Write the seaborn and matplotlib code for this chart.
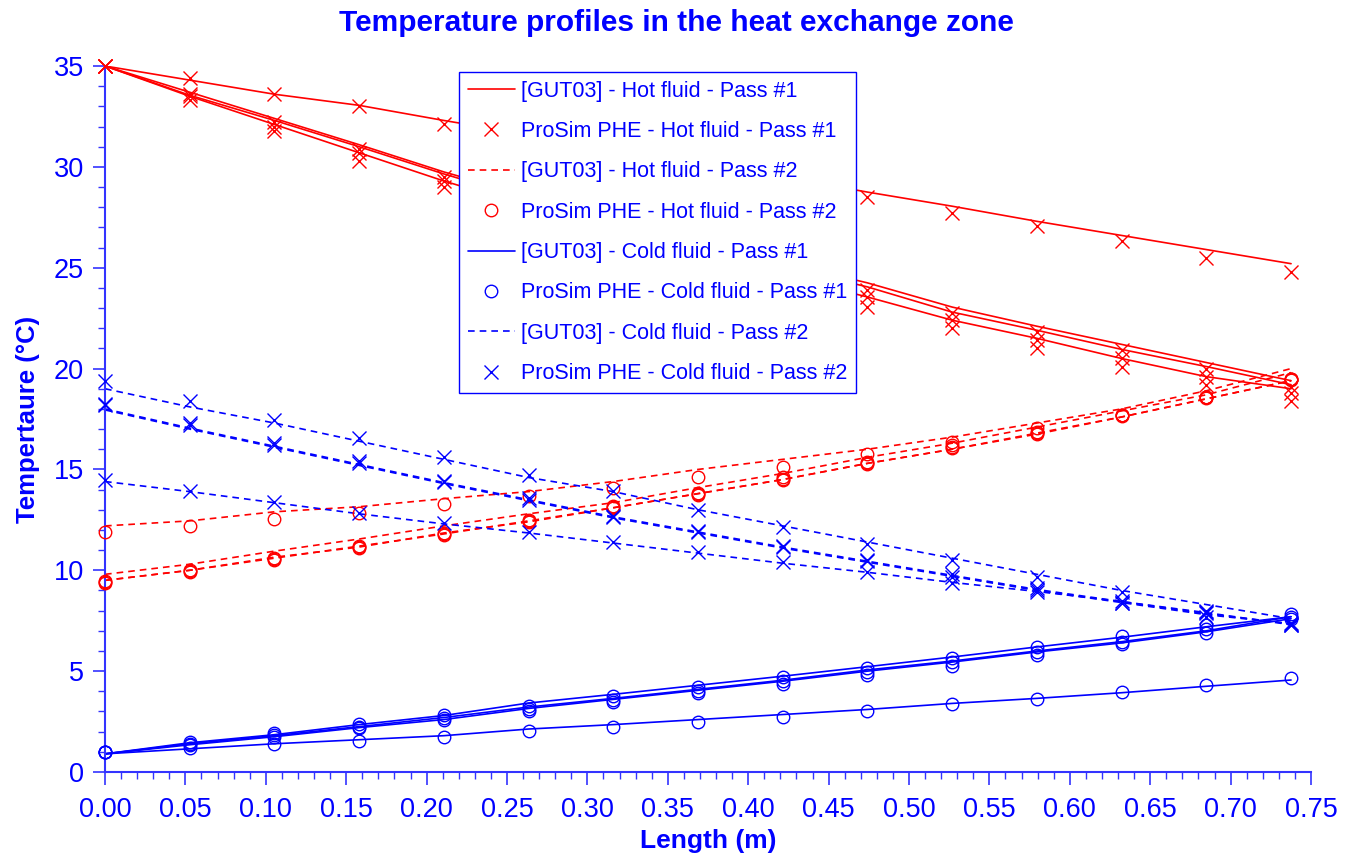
import numpy as np
import pandas as pd
import matplotlib
matplotlib.use("Agg")
import matplotlib.pyplot as plt
import seaborn as sns
from matplotlib.lines import Line2D
from matplotlib.ticker import MultipleLocator, FormatStrFormatter

# positions along the plate (m)
length_pts = [0.0, 0.0527, 0.1054, 0.158, 0.2107, 0.2634, 0.3161, 0.3688,
              0.4215, 0.4741, 0.5268, 0.5795, 0.6322, 0.6849, 0.7376]

# [GUT03] model curves (one per channel)
gut_hot1 = [
    [35, 34.3, 33.6, 33.05, 32.3, 31.6, 30.9, 30.2, 29.5, 28.75, 28.05, 27.3, 26.6, 25.9, 25.2],
    [35, 33.7, 32.4, 31.1, 29.75, 28.55, 27.4, 26.3, 25.25, 24.25, 23.05, 22.1, 21.2, 20.3, 19.4],
    [35, 33.55, 32.3, 31.0, 29.65, 28.4, 27.25, 26.1, 25.05, 24.05, 22.8, 21.9, 20.95, 20.1, 19.2],
    [35, 33.5, 32.1, 30.7, 29.3, 28.05, 26.85, 25.7, 24.6, 23.55, 22.4, 21.5, 20.5, 19.6, 19.0],
]
gut_hot2 = [
    [12.2, 12.45, 12.9, 13.15, 13.55, 13.9, 14.4, 15.0, 15.5, 16.0, 16.6, 17.3, 18.0, 18.9, 20.0],
    [9.8, 10.3, 10.95, 11.55, 12.2, 12.8, 13.35, 14.1, 14.8, 15.6, 16.3, 17.1, 17.9, 18.7, 19.8],
    [9.5, 10.0, 10.65, 11.15, 11.85, 12.4, 13.1, 13.8, 14.5, 15.3, 16.0, 16.8, 17.6, 18.5, 19.4],
    [9.5, 10.0, 10.6, 11.2, 11.8, 12.45, 13.1, 13.8, 14.5, 15.3, 16.0, 16.75, 17.6, 18.5, 19.4],
]
gut_cold1 = [
    [0.9, 1.15, 1.4, 1.6, 1.8, 2.13, 2.35, 2.6, 2.85, 3.1, 3.4, 3.65, 3.93, 4.25, 4.56],
    [0.9, 1.45, 1.85, 2.35, 2.8, 3.42, 3.85, 4.3, 4.75, 5.22, 5.7, 6.2, 6.68, 7.2, 7.7],
    [0.9, 1.4, 1.8, 2.25, 2.7, 3.22, 3.65, 4.1, 4.55, 5.06, 5.5, 6.0, 6.46, 7.0, 7.7],
    [0.9, 1.35, 1.75, 2.2, 2.6, 3.15, 3.6, 4.05, 4.5, 5.0, 5.45, 5.95, 6.4, 6.95, 7.6],
]
gut_cold2 = [
    [19.0, 18.1, 17.3, 16.4, 15.5, 14.6, 13.9, 13.0, 12.2, 11.4, 10.6, 9.8, 9.0, 8.3, 7.6],
    [17.95, 17.0, 16.1, 15.2, 14.3, 13.45, 12.6, 11.85, 11.1, 10.4, 9.7, 9.0, 8.4, 7.8, 7.35],
    [18.0, 17.05, 16.15, 15.25, 14.35, 13.5, 12.65, 11.9, 11.15, 10.45, 9.75, 9.05, 8.45, 7.85, 7.35],
    [14.4, 13.9, 13.35, 12.8, 12.3, 11.85, 11.35, 10.85, 10.35, 9.9, 9.4, 8.95, 8.45, 7.9, 7.3],
]

# ProSim PHE results
phe_hot1 = [
    [35, 34.4, 33.6, 33.0, 32.1, 31.4, 30.7, 29.9, 29.2, 28.5, 27.7, 27.05, 26.3, 25.5, 24.8],
    [35, 33.6, 32.2, 30.9, 29.5, 28.3, 27.2, 26.1, 25.0, 23.9, 22.75, 21.8, 20.9, 20.0, 19.1],
    [35, 33.5, 32.0, 30.7, 29.3, 28.0, 26.9, 25.8, 24.7, 23.55, 22.4, 21.4, 20.5, 19.6, 18.8],
    [35, 33.3, 31.8, 30.3, 29.0, 27.7, 26.5, 25.4, 24.2, 23.05, 22.0, 21.0, 20.1, 19.2, 18.4],
]
phe_hot2 = [
    [11.9, 12.2, 12.55, 12.85, 13.3, 13.7, 14.1, 14.6, 15.1, 15.75, 16.35, 17.05, 17.7, 18.6, 19.5],
    [9.45, 10.0, 10.6, 11.2, 11.85, 12.5, 13.2, 13.85, 14.6, 15.35, 16.2, 16.85, 17.7, 18.6, 19.5],
    [9.4, 9.95, 10.55, 11.15, 11.8, 12.45, 13.15, 13.8, 14.55, 15.3, 16.1, 16.8, 17.7, 18.6, 19.5],
    [9.35, 9.9, 10.5, 11.1, 11.75, 12.4, 13.1, 13.75, 14.5, 15.25, 16.05, 16.75, 17.65, 18.55, 19.45],
]
phe_cold1 = [
    [1.0, 1.2, 1.4, 1.55, 1.75, 2.05, 2.25, 2.5, 2.75, 3.0, 3.36, 3.62, 3.95, 4.31, 4.68],
    [1.0, 1.5, 1.92, 2.38, 2.83, 3.27, 3.75, 4.2, 4.7, 5.15, 5.67, 6.21, 6.74, 7.29, 7.83],
    [1.0, 1.4, 1.82, 2.25, 2.68, 3.1, 3.57, 4.02, 4.5, 4.97, 5.47, 5.97, 6.46, 7.07, 7.67],
    [1.0, 1.34, 1.75, 2.18, 2.6, 3.0, 3.45, 3.9, 4.37, 4.83, 5.27, 5.8, 6.35, 6.91, 7.6],
]
phe_cold2 = [
    [19.4, 18.4, 17.45, 16.55, 15.6, 14.7, 13.95, 13.0, 12.15, 11.3, 10.5, 9.65, 8.9, 8.0, 7.4],
    [18.2, 17.2, 16.2, 15.3, 14.4, 13.5, 12.65, 11.9, 11.15, 10.45, 9.65, 9.0, 8.4, 7.9, 7.3],
    [18.25, 17.3, 16.3, 15.4, 14.45, 13.6, 12.7, 11.95, 11.2, 10.5, 9.8, 9.1, 8.5, 7.95, 7.35],
    [14.5, 13.95, 13.4, 12.85, 12.35, 11.9, 11.4, 10.9, 10.4, 9.9, 9.35, 8.9, 8.4, 7.7, 7.3],
]

legend_labels = [
    "[GUT03] - Hot fluid - Pass #1",
    "ProSim PHE - Hot fluid - Pass #1",
    "[GUT03] - Hot fluid - Pass #2",
    "ProSim PHE - Hot fluid - Pass #2",
    "[GUT03] - Cold fluid - Pass #1",
    "ProSim PHE - Cold fluid - Pass #1",
    "[GUT03] - Cold fluid - Pass #2",
    "ProSim PHE - Cold fluid - Pass #2",
]

RED = "#ff0000"
BLUE = "#0000ff"
DASH = (0, (4, 3))

sns.set_theme(style="white")
plt.rcParams["font.family"] = ["Liberation Sans", "DejaVu Sans"]

fig = plt.figure(figsize=(13.53, 8.56), dpi=100)
ax = fig.add_axes([105 / 1353, 84 / 856, 1206 / 1353, 706 / 856])

# model curves + simulation points
series = [
    (gut_hot1, phe_hot1, RED, "-", "x"),
    (gut_hot2, phe_hot2, RED, DASH, "o"),
    (gut_cold1, phe_cold1, BLUE, "-", "o"),
    (gut_cold2, phe_cold2, BLUE, DASH, "x"),
]
handles = []
for gut, phe, col, ls, mk in series:
    for curve in gut:
        sns.lineplot(x=length_pts, y=curve, ax=ax, color=col, linestyle=ls,
                     linewidth=1.2, legend=False, zorder=2)
    for pts in phe:
        sns.lineplot(x=length_pts, y=pts, ax=ax, linestyle="", marker=mk,
                     markersize=9.5 if mk == "x" else 9,
                     markerfacecolor="none", markeredgecolor=col, color=col,
                     markeredgewidth=1.0, legend=False, zorder=3, clip_on=False)
    handles.append(Line2D([], [], color=col, linestyle=ls, linewidth=1.2))
    handles.append(Line2D([], [], linestyle="", marker=mk,
                          markersize=9.5 if mk == "x" else 9,
                          markerfacecolor="none", markeredgecolor=col,
                          markeredgewidth=1.0))

ax.set_xlim(0, 0.75)
ax.set_ylim(0, 35)
ax.xaxis.set_major_locator(MultipleLocator(0.05))
ax.xaxis.set_minor_locator(MultipleLocator(0.01))
ax.xaxis.set_major_formatter(FormatStrFormatter("%.2f"))
ax.yaxis.set_major_locator(MultipleLocator(5))
ax.yaxis.set_minor_locator(MultipleLocator(1))

for side in ["top", "right"]:
    ax.spines[side].set_visible(False)
for side in ["left", "bottom"]:
    ax.spines[side].set_color("#3333ff")
    ax.spines[side].set_linewidth(1.5)

ax.tick_params(which="major", direction="out", length=9, width=1.2,
               color="#3333ff", labelcolor=BLUE, labelsize=19.5, pad=6,
               left=True, bottom=True)
ax.tick_params(which="minor", direction="out", length=5, width=1.0,
               color="#3333ff", left=True, bottom=True)
ax.tick_params(axis="x", which="major", pad=9)
ax.grid(False)

ax.set_xlabel("Length (m)", fontsize=19, fontweight="bold", color=BLUE, labelpad=4)
ax.set_ylabel("Tempertaure (°C)", fontsize=18.5, fontweight="bold", color=BLUE, labelpad=10)
fig.text(676 / 1353, 1 - 23 / 856, "Temperature profiles in the heat exchange zone",
         ha="center", va="center", fontsize=21.5, fontweight="bold", color=BLUE)

leg = ax.legend(handles=handles, labels=legend_labels, loc="upper left",
                bbox_to_anchor=(354 / 1206, 700 / 706), borderaxespad=0,
                frameon=True, fancybox=False, framealpha=1, edgecolor=BLUE,
                prop={"family": ["Liberation Sans", "DejaVu Sans"], "size": 15.5},
                labelspacing=0.9, handlelength=2.2, handletextpad=0.3,
                borderpad=0.4, labelcolor=BLUE)
leg.get_frame().set_linewidth(1.0)
leg.set_zorder(10)

fig.savefig("out.png", dpi=100)
